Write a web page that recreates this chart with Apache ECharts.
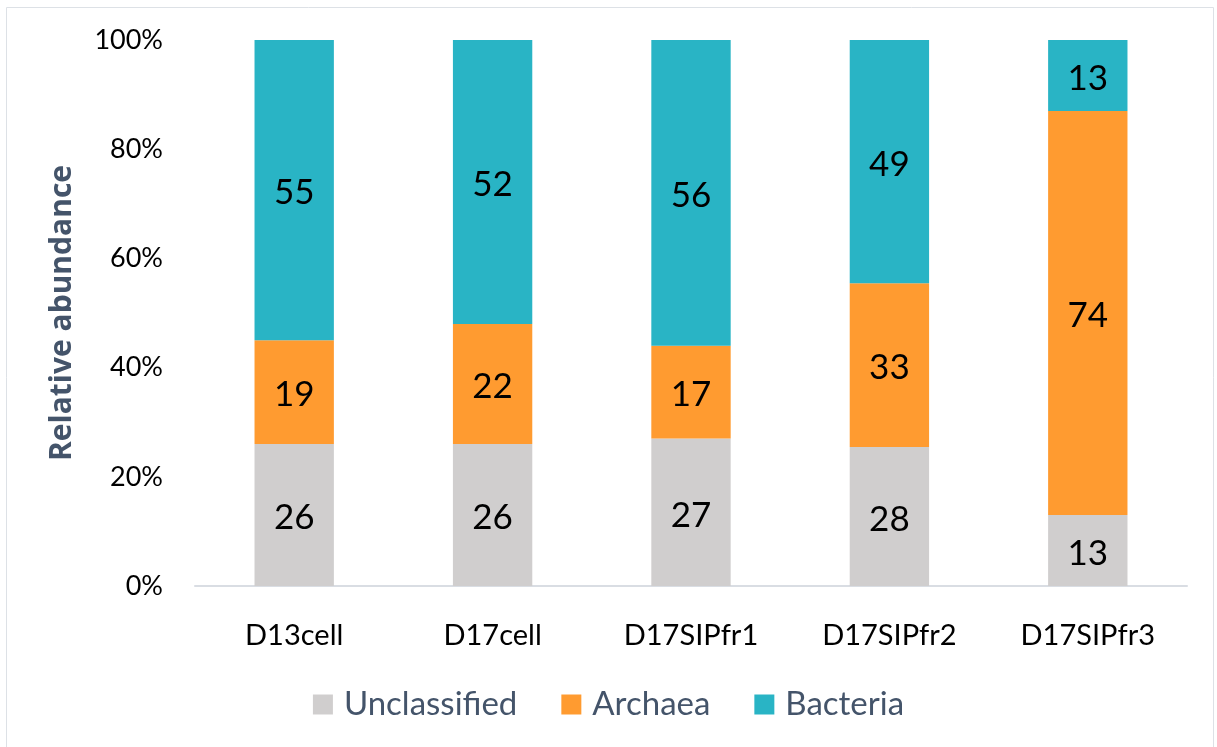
<!DOCTYPE html>
<html>
<head>
<meta charset="utf-8">
<script src="https://cdn.jsdelivr.net/npm/echarts@6/dist/echarts.min.js"></script>
<style>
html,body{margin:0;padding:0;background:#fff;}
#chart{width:1217px;height:747px;}
</style>
</head>
<body>
<div id="chart"></div>
<script>
const categories = ['D13cell','D17cell','D17SIPfr1','D17SIPfr2','D17SIPfr3'];
const unclassified = [26, 26, 27, 28, 13];
const archaea = [19, 22, 17, 33, 74];
const bacteria = [55, 52, 56, 49, 13];
const yTickLabels = ['0%','20%','40%','60%','80%','100%'];

const totals = categories.map((c, i) => unclassified[i] + archaea[i] + bacteria[i]);
const pct = arr => arr.map((v, i) => v / totals[i] * 100);

const chart = echarts.init(document.getElementById('chart'));
const FONT = 'Lato, "Open Sans", sans-serif';
function mk(name, raw, color) {
  return {
    name: name,
    type: 'bar',
    stack: 'total',
    barWidth: '40%',
    data: pct(raw),
    itemStyle: { color: color },
    label: {
      show: true,
      position: 'inside',
      offset: [0, 3],
      color: '#000',
      fontSize: 35,
      fontFamily: FONT,
      formatter: p => String(raw[p.dataIndex])
    }
  };
}
chart.setOption({
  animation: false,
  graphic: [{
    type: 'rect',
    shape: { x: 6.5, y: 7.5, width: 1207, height: 760 },
    style: { fill: 'none', stroke: '#dde1e6', lineWidth: 1 },
    silent: true
  }],
  grid: { left: 195, right: 30, top: 40, bottom: 161 },
  legend: {
    bottom: 21,
    left: 'center',
    itemWidth: 20,
    itemHeight: 20,
    itemGap: 44,
    icon: 'rect',
    textStyle: { color: '#44546a', fontSize: 33, fontFamily: FONT, padding: [0, 0, 0, 6] },
    data: ['Unclassified', 'Archaea', 'Bacteria']
  },
  xAxis: {
    type: 'category',
    data: categories,
    axisLine: { lineStyle: { color: '#d9dde3', width: 2 } },
    axisTick: { show: false },
    axisLabel: { color: '#000', fontSize: 29, fontFamily: FONT, margin: 35 }
  },
  yAxis: {
    type: 'value',
    min: 0,
    max: 100,
    interval: 20,
    name: 'Relative abundance',
    nameLocation: 'middle',
    nameGap: 118,
    nameTextStyle: { color: '#44546a', fontSize: 30, fontWeight: 'bold', fontFamily: '"Open Sans", sans-serif' },
    splitLine: { show: false },
    axisLine: { show: false },
    axisTick: { show: false },
    axisLabel: {
      color: '#000', fontSize: 27, fontFamily: FONT, margin: 32,
      formatter: v => yTickLabels[Math.round(v / 20)]
    }
  },
  series: [
    mk('Unclassified', unclassified, '#d0cece'),
    mk('Archaea', archaea, '#ff9b30'),
    mk('Bacteria', bacteria, '#29b4c5')
  ]
});
</script>
</body>
</html>
